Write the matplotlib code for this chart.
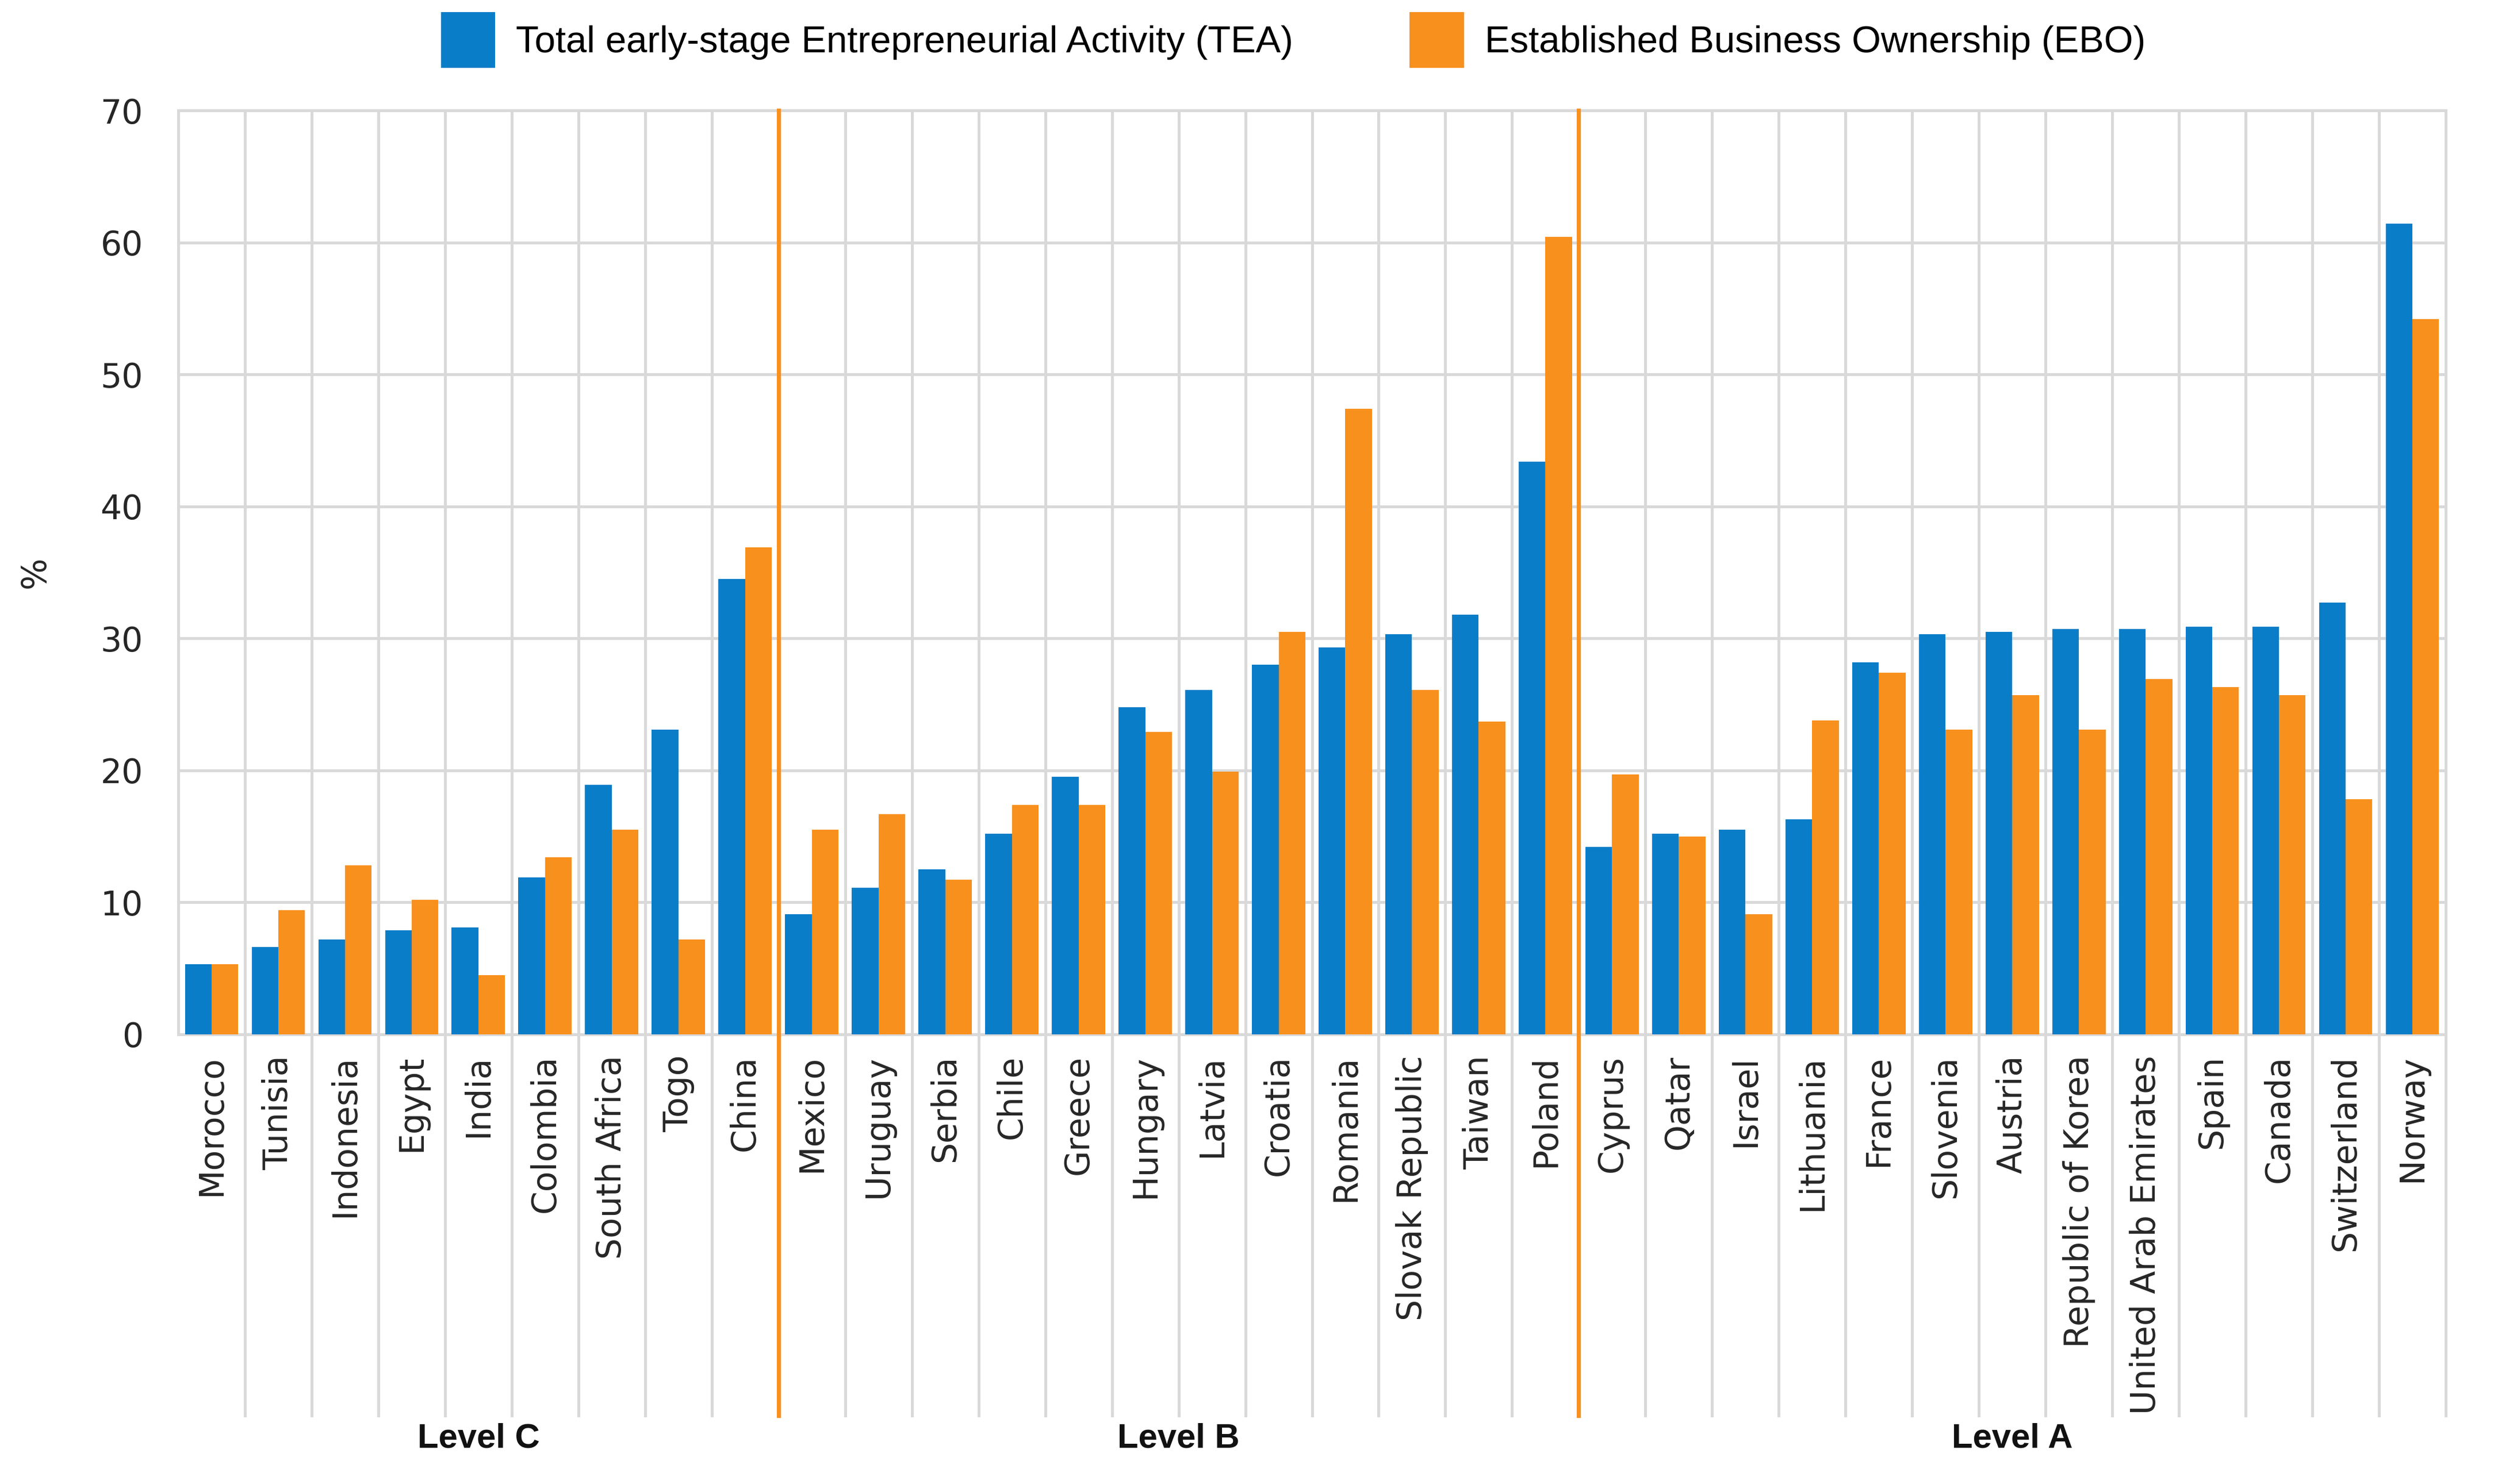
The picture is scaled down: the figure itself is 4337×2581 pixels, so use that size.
import matplotlib
matplotlib.use("Agg")
import matplotlib.pyplot as plt
import numpy as np

# Data
countries = ["Morocco", "Tunisia", "Indonesia", "Egypt", "India", "Colombia",
             "South Africa", "Togo", "China",
             "Mexico", "Uruguay", "Serbia", "Chile", "Greece", "Hungary",
             "Latvia", "Croatia", "Romania", "Slovak Republic", "Taiwan", "Poland",
             "Cyprus", "Qatar", "Israel", "Lithuania", "France", "Slovenia",
             "Austria", "Republic of Korea", "United Arab Emirates", "Spain",
             "Canada", "Switzerland", "Norway"]
tea = [5.3, 6.6, 7.2, 7.9, 8.1, 11.9, 18.9, 23.1, 34.5,
       9.1, 11.1, 12.5, 15.2, 19.5, 24.8, 26.1, 28.0, 29.3, 30.3, 31.8, 43.4,
       14.2, 15.2, 15.5, 16.3, 28.2, 30.3, 30.5, 30.7, 30.7, 30.9, 30.9, 32.7, 61.4]
ebo = [5.3, 9.4, 12.8, 10.2, 4.5, 13.4, 15.5, 7.2, 36.9,
       15.5, 16.7, 11.7, 17.4, 17.4, 22.9, 19.9, 30.5, 47.4, 26.1, 23.7, 60.4,
       19.7, 15.0, 9.1, 23.8, 27.4, 23.1, 25.7, 23.1, 26.9, 26.3, 25.7, 17.8, 54.2]
levels = ["Level C", "Level B", "Level A"]
level_sizes = [9, 12, 13]

BLUE = "#0a7dc8"
ORANGE = "#f8901e"
GRID = "#d9d9d9"
TXT = "#262626"

fig = plt.figure(figsize=(4337 / 200, 2581 / 200), dpi=200)
ax = fig.add_axes([310 / 4337, 1 - 1799 / 2581, (4253 - 310) / 4337, (1799 - 192) / 2581])

x = np.arange(len(countries))
w = 0.4
ax.bar(x - w / 2, tea, w, color=BLUE, label="Total early-stage Entrepreneurial Activity (TEA)", zorder=3)
ax.bar(x + w / 2, ebo, w, color=ORANGE, label="Established Business Ownership (EBO)", zorder=3)

ax.set_xlim(-0.5, len(countries) - 0.5)
ax.set_ylim(0, 70)
ax.set_yticks(range(0, 71, 10))
ax.set_xticks(x)
ax.set_xticklabels(countries, rotation=90, va="top", ha="center")
ax.set_xticks(np.arange(-0.5, len(countries), 1), minor=True)

ax.grid(axis="y", color=GRID, linewidth=1.8, zorder=0)
ax.grid(axis="x", which="minor", color=GRID, linewidth=1.8, zorder=0)
ax.grid(axis="x", which="major", visible=False)
for s in ax.spines.values():
    s.set_color(GRID)
    s.set_linewidth(1.8)
    s.set_zorder(0)

ax.tick_params(axis="both", which="both", length=0, colors=TXT, labelsize=21)
ax.tick_params(axis="y", pad=22)
ax.tick_params(axis="x", pad=13)
for lab in ax.get_xticklabels() + ax.get_yticklabels():
    lab.set_family("DejaVu Sans")

ax.text(-0.063, 0.5, "%", transform=ax.transAxes, rotation=90, ha="center",
        va="center", fontsize=21, color=TXT)

# group separators and gridline extensions below the axis
trans = ax.get_xaxis_transform()
bounds = np.cumsum(level_sizes) - 0.5
for b in np.arange(0.5, len(countries), 1):
    if b in bounds[:-1]:
        ax.plot([b, b], [1, -0.4126], transform=trans, color=ORANGE,
                linewidth=2.6, clip_on=False, zorder=4)
    else:
        ax.plot([b, b], [0, -0.4126], transform=trans, color=GRID,
                linewidth=1.8, clip_on=False, zorder=0)

start = -0.5
for name, n in zip(levels, level_sizes):
    ax.text(start + n / 2, -0.4375, name, transform=trans, ha="center", va="center",
            fontsize=21.5, fontweight="bold", family="Liberation Sans", color="#111111")
    start += n

fig.legend(loc="center", bbox_to_anchor=(0.5185, 0.973), ncol=2, frameon=False,
           prop={"family": "Liberation Sans", "size": 23.5}, handlelength=1.45,
           handleheight=1.9, handletextpad=0.55, columnspacing=3.1)

fig.savefig("out.png", dpi=200)
